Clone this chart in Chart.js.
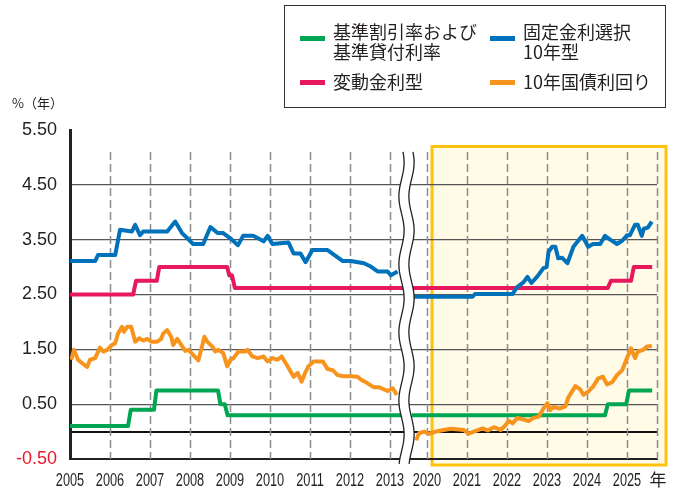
<!DOCTYPE html>
<html lang="ja">
<head>
<meta charset="UTF-8">
<title>金利の推移</title>
<script src="https://cdn.jsdelivr.net/npm/chart.js"></script>
<style>
  body { margin: 0; background: #fff; color: #231f20; font-family: 'Noto Sans CJK JP', sans-serif; }
  #wrap { position: relative; width: 680px; height: 493px; }
  #rateChart { position: absolute; left: 0; top: 0; }
  .unit { position: absolute; left: 12px; top: 94px; font-size: 13px; line-height: 18px; }
  .legend-box { position: absolute; left: 284px; top: 5px; width: 380px; height: 101px; border: 1.5px solid #333; }
  .swatch { position: absolute; width: 25px; height: 5px; }
  .label { position: absolute; font-size: 18px; line-height: 20px; white-space: nowrap; }
</style>
</head>
<body>
<div id="wrap">
  <canvas id="rateChart" width="680" height="493"></canvas>
  <div class="unit">%（年）</div>
  <div class="legend-box"></div>
  <div class="swatch" style="left:300px; top:36px; background:#00a651"></div>
  <div class="label" style="left:333px; top:21px">基準割引率および<br>基準貸付利率</div>
  <div class="swatch" style="left:490px; top:36px; background:#0072bc"></div>
  <div class="label" style="left:523px; top:21px">固定金利選択<br>10年型</div>
  <div class="swatch" style="left:300px; top:80px; background:#e8185d"></div>
  <div class="label" style="left:333px; top:71px">変動金利型</div>
  <div class="swatch" style="left:490px; top:80px; background:#f7941d"></div>
  <div class="label" style="left:523px; top:71px">10年国債利回り</div>
</div>
<script>
// x axis: 2005-2013, then a break, then 2020-2025
const xTickYears = [2005, 2006, 2007, 2008, 2009, 2010, 2011, 2012, 2013, 2020, 2021, 2022, 2023, 2024, 2025];
const xUnitLabel = '年';
const yTicks = [-0.5, 0, 0.5, 1.5, 2.5, 3.5, 4.5, 5.5];

// [year, %], before and after the break
const discountPre = [[2005.0, 0.1], [2006.45, 0.1], [2006.52, 0.4], [2007.1, 0.4], [2007.16, 0.75], [2008.7, 0.75],
  [2008.76, 0.5], [2008.87, 0.5], [2008.94, 0.3], [2013.35, 0.3]];
const discountPost = [[2019.62, 0.3], [2024.45, 0.3], [2024.52, 0.5], [2024.98, 0.5], [2025.05, 0.75], [2025.63, 0.75]];

const variablePre = [[2005.0, 2.5], [2006.58, 2.5], [2006.65, 2.75], [2007.17, 2.75], [2007.23, 3.0], [2008.93, 3.0],
  [2008.98, 2.85], [2009.05, 2.85], [2009.12, 2.62], [2013.35, 2.62]];
const variablePost = [[2019.62, 2.62], [2024.52, 2.62], [2024.6, 2.75], [2025.1, 2.75], [2025.17, 3.0], [2025.63, 3.0]];

const fixed10Pre = [[2005.0, 3.11], [2005.63, 3.11], [2005.7, 3.22], [2006.13, 3.22], [2006.25, 3.68], [2006.55, 3.65],
  [2006.63, 3.77], [2006.75, 3.58], [2006.83, 3.65], [2007.43, 3.65], [2007.63, 3.83], [2007.8, 3.62],
  [2007.93, 3.53], [2008.08, 3.42], [2008.33, 3.42], [2008.51, 3.73], [2008.69, 3.62], [2008.83, 3.62],
  [2009.0, 3.53], [2009.2, 3.4], [2009.33, 3.57], [2009.58, 3.57], [2009.84, 3.47], [2009.94, 3.57],
  [2010.06, 3.42], [2010.46, 3.45], [2010.59, 3.25], [2010.76, 3.25], [2010.89, 3.09], [2011.06, 3.31],
  [2011.44, 3.31], [2011.82, 3.11], [2012.02, 3.11], [2012.35, 3.07], [2012.52, 3.01], [2012.69, 2.92],
  [2012.94, 2.92], [2013.02, 2.85], [2013.19, 2.92]];
const fixed10Post = [[2019.65, 2.46], [2021.14, 2.46], [2021.2, 2.51], [2022.14, 2.51], [2022.26, 2.64], [2022.41, 2.72],
  [2022.51, 2.82], [2022.61, 2.71], [2022.76, 2.83], [2022.91, 2.98], [2022.99, 3.0], [2023.04, 3.28],
  [2023.13, 3.37], [2023.21, 3.37], [2023.28, 3.16], [2023.38, 3.17], [2023.51, 3.07], [2023.66, 3.37],
  [2023.88, 3.57], [2024.03, 3.37], [2024.15, 3.42], [2024.33, 3.42], [2024.45, 3.57], [2024.58, 3.5],
  [2024.75, 3.42], [2024.88, 3.48], [2025.0, 3.58], [2025.07, 3.58], [2025.2, 3.77], [2025.27, 3.77],
  [2025.37, 3.57], [2025.42, 3.7], [2025.52, 3.72], [2025.62, 3.83]];

const jgbPre = [[2005.03, 1.31], [2005.1, 1.49], [2005.2, 1.31], [2005.3, 1.25], [2005.43, 1.18], [2005.5, 1.31],
  [2005.63, 1.34], [2005.75, 1.53], [2005.83, 1.46], [2005.93, 1.49], [2006.05, 1.58], [2006.13, 1.61],
  [2006.2, 1.79], [2006.3, 1.91], [2006.35, 1.82], [2006.43, 1.91], [2006.53, 1.91], [2006.63, 1.64],
  [2006.73, 1.7], [2006.83, 1.66], [2006.93, 1.69], [2007.03, 1.64], [2007.18, 1.64], [2007.28, 1.69],
  [2007.33, 1.79], [2007.43, 1.85], [2007.53, 1.73], [2007.58, 1.58], [2007.68, 1.69], [2007.81, 1.55],
  [2007.88, 1.47], [2007.96, 1.49], [2008.08, 1.4], [2008.21, 1.3], [2008.31, 1.58], [2008.36, 1.73],
  [2008.43, 1.64], [2008.56, 1.55], [2008.63, 1.46], [2008.71, 1.49], [2008.83, 1.43], [2008.93, 1.19],
  [2009.01, 1.31], [2009.09, 1.34], [2009.21, 1.46], [2009.39, 1.46], [2009.44, 1.49], [2009.56, 1.37],
  [2009.69, 1.34], [2009.84, 1.37], [2009.94, 1.28], [2010.06, 1.34], [2010.19, 1.31], [2010.29, 1.37],
  [2010.44, 1.19], [2010.59, 1.0], [2010.69, 1.07], [2010.79, 0.91], [2010.89, 1.09], [2010.96, 1.19],
  [2011.09, 1.28], [2011.19, 1.28], [2011.32, 1.28], [2011.44, 1.14], [2011.57, 1.12], [2011.69, 1.03],
  [2011.84, 1.01], [2012.02, 1.01], [2012.19, 1.0], [2012.27, 0.95], [2012.44, 0.88], [2012.59, 0.81],
  [2012.72, 0.81], [2012.94, 0.74], [2013.07, 0.79], [2013.17, 0.67]];
const jgbPost = [[2019.73, -0.16], [2019.8, -0.03], [2019.93, 0.0], [2020.05, -0.04], [2020.22, 0.0], [2020.42, 0.03],
  [2020.6, 0.05], [2020.92, 0.03], [2021.04, -0.04], [2021.17, 0.0], [2021.39, 0.06], [2021.52, 0.02],
  [2021.67, 0.08], [2021.84, 0.03], [2021.97, 0.12], [2022.04, 0.2], [2022.14, 0.15], [2022.26, 0.25],
  [2022.41, 0.22], [2022.54, 0.19], [2022.66, 0.25], [2022.79, 0.27], [2022.91, 0.42], [2023.01, 0.52],
  [2023.08, 0.39], [2023.16, 0.45], [2023.31, 0.42], [2023.46, 0.46], [2023.53, 0.62], [2023.71, 0.83],
  [2023.83, 0.77], [2023.91, 0.67], [2024.03, 0.73], [2024.15, 0.82], [2024.28, 0.97], [2024.4, 1.0],
  [2024.5, 0.86], [2024.63, 0.9], [2024.75, 1.03], [2024.88, 1.12], [2025.0, 1.34], [2025.1, 1.52],
  [2025.2, 1.34], [2025.27, 1.46], [2025.4, 1.49], [2025.5, 1.55], [2025.62, 1.56]];

// axis position: years after the break are pulled left
function pos(year) {
  return year < 2016 ? year - 2005 : year - 2020 + 8.925;
}
const xMax = pos(2025.75);
const breakPos = 8.45;

function series(pre, post) {
  return [
    ...pre.map(p => ({x: pos(p[0]), y: p[1]})),
    {x: breakPos, y: null},
    ...post.map(p => ({x: pos(p[0]), y: p[1]}))
  ];
}

const decor = {
  id: 'decor',
  beforeDraw(chart) {
    const {ctx, chartArea, scales: {x, y}} = chart;
    const left = x.getPixelForValue(pos(2020)) + 5;
    const top = y.getPixelForValue(5.2);
    const right = chartArea.right + 9;
    const bottom = chartArea.bottom + 6;
    ctx.save();
    ctx.fillStyle = '#fffbe7';
    ctx.fillRect(left, top, right - left, bottom - top);
    ctx.strokeStyle = '#fec20f';
    ctx.lineWidth = 3;
    ctx.strokeRect(left, top, right - left, bottom - top);
    ctx.restore();
  },
  beforeDatasetsDraw(chart) {
    const {ctx, chartArea, scales: {x, y}} = chart;
    const top = y.getPixelForValue(5.1);
    ctx.save();
    ctx.strokeStyle = '#8c8c8c';
    ctx.lineWidth = 1.5;
    ctx.setLineDash([8, 4]);
    const lines = xTickYears.slice(1).map(pos).concat([xMax]);
    lines.forEach(v => {
      const px = Math.round(x.getPixelForValue(v)) + 0.5;
      ctx.beginPath();
      ctx.moveTo(px, top);
      ctx.lineTo(px, chartArea.bottom);
      ctx.stroke();
    });
    ctx.restore();
  },
  afterDatasetsDraw(chart) {
    const {ctx, chartArea, scales: {x, y}} = chart;
    const cx = (x.getPixelForValue(pos(2013)) + x.getPixelForValue(pos(2020))) / 2 - 2;
    const top = y.getPixelForValue(5.1);
    const bottom = chartArea.bottom + 6;
    const wave = (yy, off) => cx + off + 2.6 * Math.sin((yy - top) / 68 * Math.PI * 2 + 0.6);
    ctx.save();
    ctx.beginPath();
    for (let yy = top; yy <= bottom; yy += 2) ctx.lineTo(wave(yy, -5), yy);
    for (let yy = bottom; yy >= top; yy -= 2) ctx.lineTo(wave(yy, 5), yy);
    ctx.closePath();
    ctx.fillStyle = '#fff';
    ctx.fill();
    ctx.strokeStyle = '#222';
    ctx.lineWidth = 1.3;
    [-5, 5].forEach(off => {
      ctx.beginPath();
      for (let yy = top; yy <= bottom; yy += 2) ctx.lineTo(wave(yy, off), yy);
      ctx.stroke();
    });
    ctx.restore();
  },
  afterDraw(chart) {
    // year labels are set in a condensed face, so squeeze them
    const {ctx, chartArea, scales: {x}} = chart;
    const ly = chartArea.bottom + 22;
    ctx.save();
    ctx.fillStyle = '#231f20';
    ctx.textAlign = 'center';
    ctx.textBaseline = 'middle';
    ctx.font = "18px 'Liberation Sans', Arial, sans-serif";
    x.ticks.forEach((t, i) => {
      if (i >= xTickYears.length) return;
      const px = x.getPixelForValue(t.value);
      ctx.save();
      ctx.translate(px, ly);
      ctx.scale(0.71, 1);
      ctx.fillText(String(xTickYears[i]), 0, 0);
      ctx.restore();
    });
    ctx.font = "17px 'Noto Sans CJK JP', sans-serif";
    ctx.fillText(xUnitLabel, x.getPixelForValue(xMax) + 1, ly - 1);
    ctx.restore();
  }
};

const lineStyle = {borderWidth: 4, pointRadius: 0, tension: 0, borderJoinStyle: 'round', fill: false, spanGaps: false};

new Chart(document.getElementById('rateChart'), {
  type: 'line',
  data: {
    datasets: [
      {label: '10年国債利回り', data: series(jgbPre, jgbPost), borderColor: '#f7941d', ...lineStyle},
      {label: '固定金利選択10年型', data: series(fixed10Pre, fixed10Post), borderColor: '#0072bc', ...lineStyle},
      {label: '変動金利型', data: series(variablePre, variablePost), borderColor: '#e8185d', ...lineStyle},
      {label: '基準割引率および基準貸付利率', data: series(discountPre, discountPost), borderColor: '#00a651', ...lineStyle}
    ]
  },
  options: {
    responsive: false,
    animation: false,
    devicePixelRatio: 1,
    layout: {padding: {top: 130, right: 23, left: 0, bottom: 0}},
    plugins: {legend: {display: false}, tooltip: {enabled: false}},
    scales: {
      x: {
        type: 'linear',
        min: 0,
        max: xMax,
        afterBuildTicks: scale => {
          scale.ticks = xTickYears.map(yr => ({value: pos(yr)})).concat([{value: xMax}]);
        },
        afterFit: scale => { scale.height = 34; },
        grid: {display: false, drawTicks: false},
        border: {display: true, color: '#222', width: 2},
        ticks: {display: false, autoSkip: false}
      },
      y: {
        min: -0.5,
        max: 5.5,
        afterBuildTicks: scale => { scale.ticks = yTicks.map(v => ({value: v})); },
        afterFit: scale => { scale.width = 70; },
        grid: {
          drawTicks: false,
          color: ctx => {
            const v = ctx.tick && ctx.tick.value;
            if (v === 0) return '#111';
            if (v === 5.5 || v === -0.5) return 'rgba(0,0,0,0)';
            return '#555';
          },
          lineWidth: ctx => (ctx.tick && ctx.tick.value === 0) ? 2 : 1.3
        },
        border: {display: true, color: '#222', width: 3},
        ticks: {
          padding: 13,
          color: ctx => ctx.tick.value === -0.5 ? '#e8192c' : '#231f20',
          font: {family: "'Liberation Sans', Arial, sans-serif", size: 18},
          callback: v => v === 0 ? '' : v.toFixed(2)
        }
      }
    }
  },
  plugins: [decor]
});
</script>
</body>
</html>
